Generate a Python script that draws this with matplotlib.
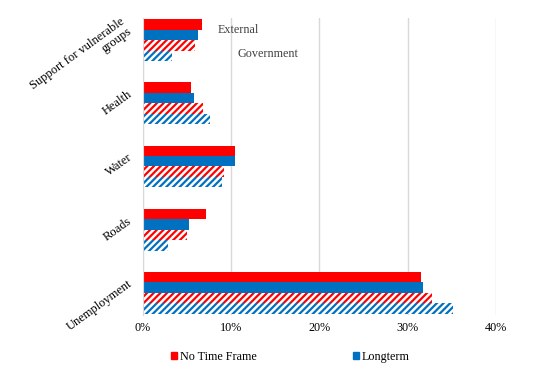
import numpy as np
import matplotlib
matplotlib.use("Agg")
import matplotlib.pyplot as plt
import matplotlib.transforms as mtransforms
from matplotlib.patches import Patch

plt.rcParams['font.family'] = ['Liberation Serif', 'DejaVu Serif']
plt.rcParams['hatch.linewidth'] = 1.6

# categories from top to bottom
categories = ['Support for vulnerable\ngroups', 'Health', 'Water', 'Roads', 'Unemployment']

# shares (%)
no_time_external = [6.7, 5.5, 10.4, 7.2, 31.5]
longterm_external = [6.3, 5.8, 10.5, 5.2, 31.7]
no_time_government = [5.9, 6.8, 9.2, 5.0, 32.8]
longterm_government = [3.3, 7.6, 9.0, 2.9, 35.1]

red = '#FF0000'
blue = '#0070C0'
fs = 8.7

fig = plt.figure(figsize=(5.38, 3.81), dpi=100)
ax = fig.add_axes([0.2655, 0.173, 0.656, 0.78])

y = np.arange(len(categories))
h = 0.166

ax.barh(y - 1.5 * h, no_time_external, height=h, color=red, linewidth=0)
ax.barh(y - 0.5 * h, longterm_external, height=h, color=blue, linewidth=0)
ax.barh(y + 0.5 * h, no_time_government, height=h, color='white',
        edgecolor=red, hatch='/////', linewidth=0)
ax.barh(y + 1.5 * h, longterm_government, height=h, color='white',
        edgecolor=blue, hatch='/////', linewidth=0)

ax.set_xlim(0, 40)
ax.set_ylim(len(categories) - 1 + 2 * h + 0.02, -2 * h - 0.02)
ax.set_xticks([0, 10, 20, 30, 40])
ax.set_xticklabels(['0%', '10%', '20%', '30%', '40%'], fontsize=fs)
ax.set_yticks(y)
ax.set_yticklabels(categories, fontsize=9, rotation=36, ha='right', va='bottom',
                   rotation_mode='anchor', multialignment='right', linespacing=1.0)
ax.tick_params(length=0, pad=5)
ax.tick_params(axis='y', pad=7)

# nudge the category labels up a little, like the original
shift = mtransforms.ScaledTranslation(0.01, 0.05, fig.dpi_scale_trans)
for lbl in ax.get_yticklabels():
    lbl.set_transform(lbl.get_transform() + shift)

ax.grid(axis='x', color='#D9D9D9', linewidth=1)
ax.set_axisbelow(True)
for s in ['top', 'right', 'bottom']:
    ax.spines[s].set_visible(False)
ax.spines['left'].set_color('#D9D9D9')

ax.text(8.5, -1.0 * h, 'External', fontsize=fs, va='center', color='#404040')
ax.text(10.7, 1.35 * h, 'Government', fontsize=fs, va='center', color='#404040')

handles = [Patch(color=red, label='No Time Frame'),
           Patch(color=blue, label='Longterm')]
fig.legend(handles=handles, loc='center', bbox_to_anchor=(0.54, 0.063), ncol=2,
           frameon=False, fontsize=fs, handlelength=0.45, handleheight=0.45,
           handletextpad=0.25, columnspacing=8.0)

fig.savefig('out.png', dpi=100)
